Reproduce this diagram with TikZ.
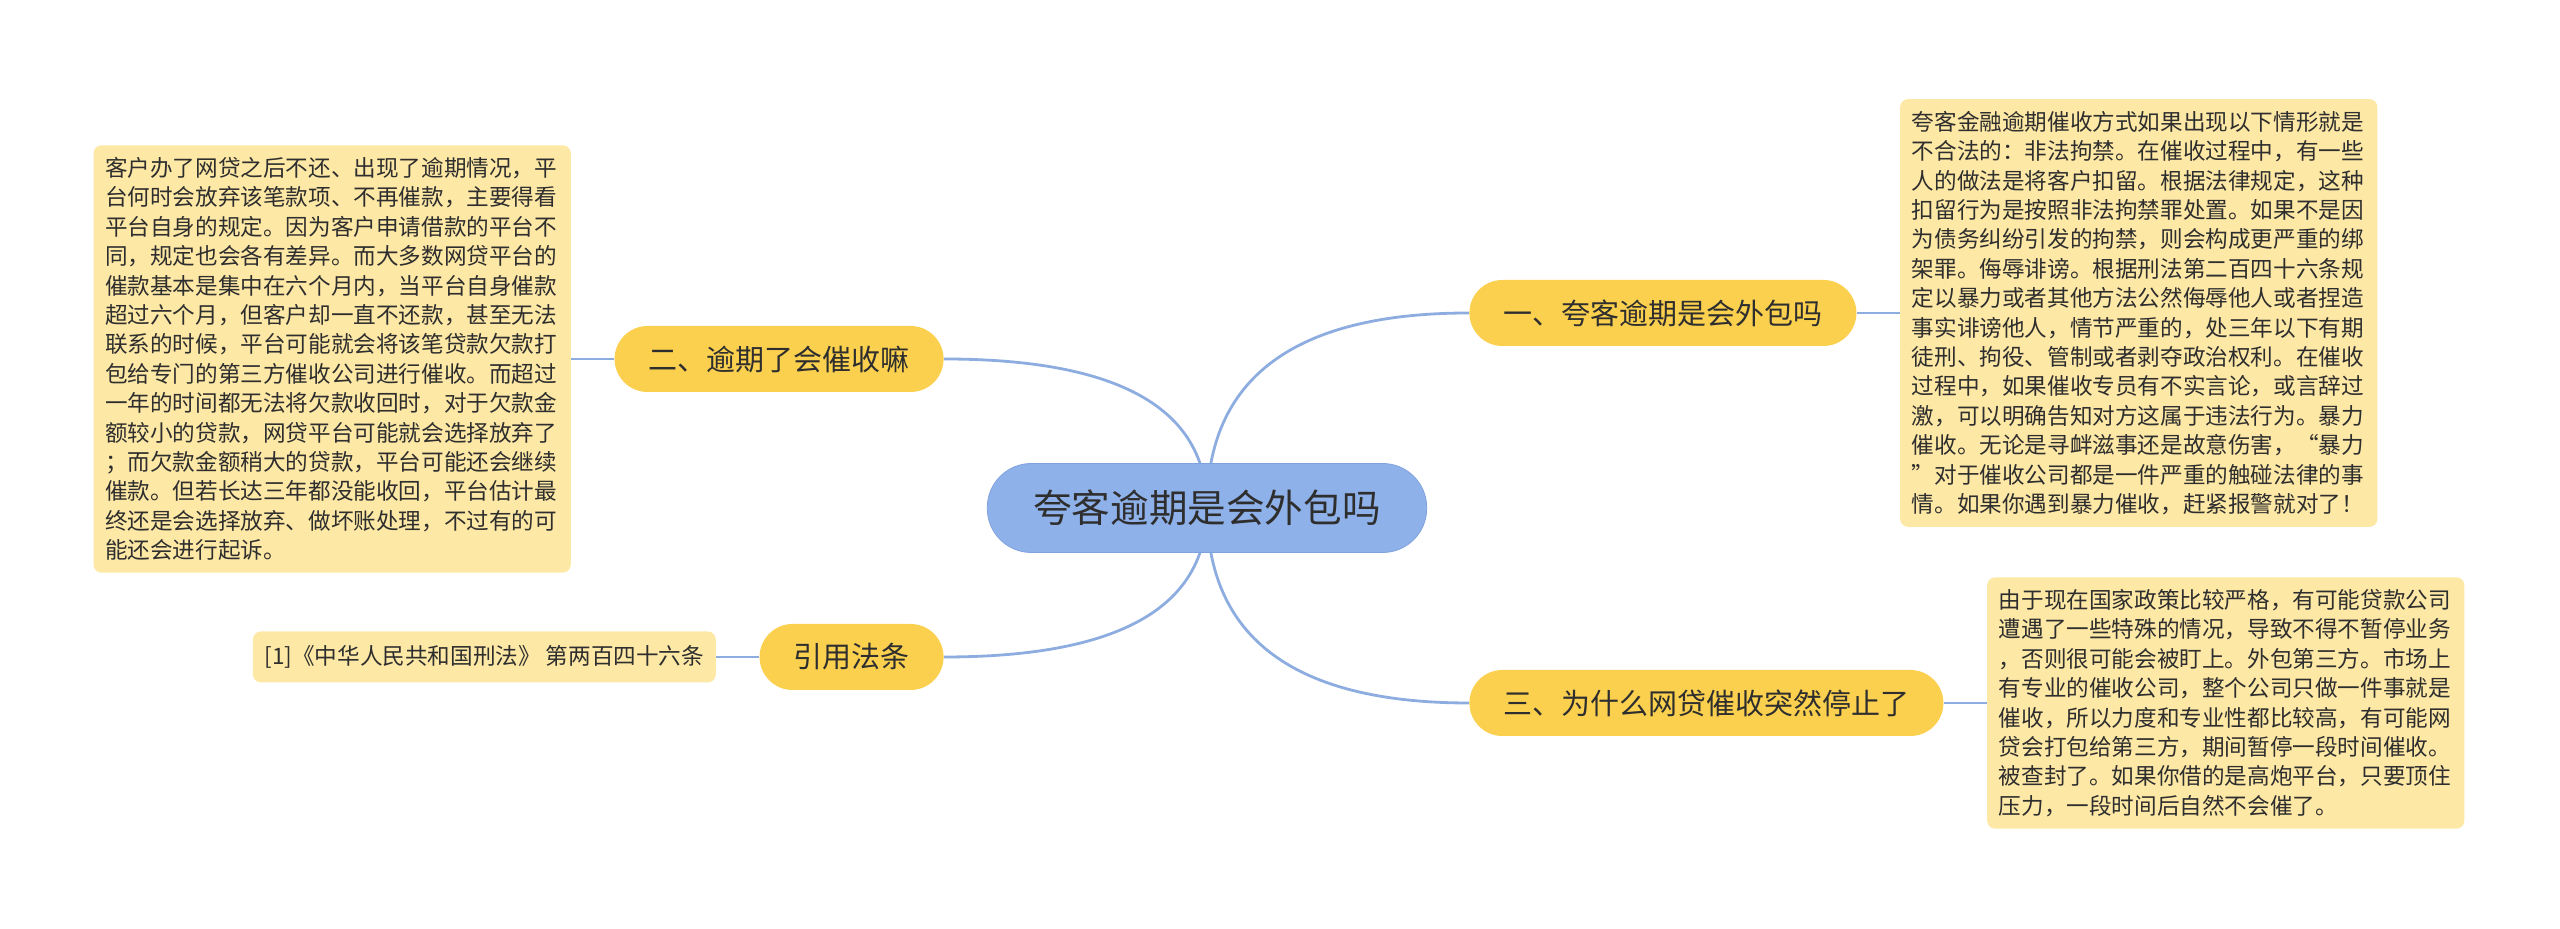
\documentclass[tikz,border=0pt]{standalone}
\usepackage{fontspec}
\setmainfont{Noto Sans CJK SC}
\definecolor{rootblue}{HTML}{8FB1E9}
\definecolor{rootedge}{HTML}{7FA2DE}
\definecolor{topicyellow}{HTML}{FBD04F}
\definecolor{leafyellow}{HTML}{FDE8A6}
\definecolor{linkblue}{HTML}{8DADE1}
\definecolor{ink}{HTML}{2E2E2E}
\usetikzlibrary{positioning, calc, backgrounds}

\begin{document}
\begin{tikzpicture}[
    node distance=12mm and 21.5pt,
    root/.style={rectangle, rounded corners=22pt, draw=rootedge, fill=rootblue,
                 minimum height=44.5pt, inner xsep=23pt, text=ink,
                 font=\fontsize{19.3pt}{23pt}\selectfont},
    topic/.style={rectangle, rounded corners=16.5pt, fill=topicyellow,
                  minimum height=33pt, inner xsep=17pt, text=ink,
                  font=\fontsize{14.5pt}{17pt}\selectfont},
    leaf/.style={rectangle, rounded corners=4pt, fill=leafyellow,
                 inner xsep=5.8pt, inner ysep=6pt, text width=227pt,
                 align=left, text=ink, font=\fontsize{11.3pt}{14.7pt}\selectfont},
    cite/.style={rectangle, rounded corners=4pt, fill=leafyellow,
                 inner xsep=5.8pt, minimum height=25.5pt, text=ink,
                 font=\fontsize{11.3pt}{14.7pt}\selectfont},
    link/.style={line width=1.4pt, linkblue}
  ]
  \useasboundingbox (-603.5pt,-210.5pt) rectangle (676.5pt,254pt);

  \node[root] (root) at (0,0) {夸客逾期是会外包吗};
  \node[topic, anchor=west] (outsrc) at (131pt,97.5pt) {一、夸客逾期是会外包吗};
  \node[topic, anchor=east] (collect) at (-131.5pt,74.5pt) {二、逾期了会催收嘛};
  \node[topic, anchor=east] (lawref) at (-131.5pt,-74.5pt) {引用法条};
  \node[topic, anchor=west] (stop) at (131pt,-97.5pt) {三、为什么网贷催收突然停止了};

  \node[leaf, right=of outsrc] (outsrctext) {夸客金融逾期催收方式如果出现以下情形就是\\
    不合法的：非法拘禁。在催收过程中，有一些\\
    人的做法是将客户扣留。根据法律规定，这种\\
    扣留行为是按照非法拘禁罪处置。如果不是因\\
    为债务纠纷引发的拘禁，则会构成更严重的绑\\
    架罪。侮辱诽谤。根据刑法第二百四十六条规\\
    定以暴力或者其他方法公然侮辱他人或者捏造\\
    事实诽谤他人，情节严重的，处三年以下有期\\
    徒刑、拘役、管制或者剥夺政治权利。在催收\\
    过程中，如果催收专员有不实言论，或言辞过\\
    激，可以明确告知对方这属于违法行为。暴力\\
    催收。无论是寻衅滋事还是故意伤害，“暴力\\
    ”对于催收公司都是一件严重的触碰法律的事\\
    情。如果你遇到暴力催收，赶紧报警就对了！};
  \node[leaf, left=of collect] (collecttext) {客户办了网贷之后不还、出现了逾期情况，平\\
    台何时会放弃该笔款项、不再催款，主要得看\\
    平台自身的规定。因为客户申请借款的平台不\\
    同，规定也会各有差异。而大多数网贷平台的\\
    催款基本是集中在六个月内，当平台自身催款\\
    超过六个月，但客户却一直不还款，甚至无法\\
    联系的时候，平台可能就会将该笔贷款欠款打\\
    包给专门的第三方催收公司进行催收。而超过\\
    一年的时间都无法将欠款收回时，对于欠款金\\
    额较小的贷款，网贷平台可能就会选择放弃了\\
    ；而欠款金额稍大的贷款，平台可能还会继续\\
    催款。但若长达三年都没能收回，平台估计最\\
    终还是会选择放弃、做坏账处理，不过有的可\\
    能还会进行起诉。};
  \node[cite, left=of lawref] (lawtext) {[1]《中华人民共和国刑法》 第两百四十六条};
  \node[leaf, right=of stop] (stoptext) {由于现在国家政策比较严格，有可能贷款公司\\
    遭遇了一些特殊的情况，导致不得不暂停业务\\
    ，否则很可能会被盯上。外包第三方。市场上\\
    有专业的催收公司，整个公司只做一件事就是\\
    催收，所以力度和专业性都比较高，有可能网\\
    贷会打包给第三方，期间暂停一段时间催收。\\
    被查封了。如果你借的是高炮平台，只要顶住\\
    压力，一段时间后自然不会催了。};

  \begin{scope}[on background layer]
    \draw[link] (root.center) .. controls ($(root.center)!0.667!(root.center |- outsrc.west)$)
      and ($(outsrc.west)!0.667!(root.center |- outsrc.west)$) .. (outsrc.west);
    \draw[link] (root.center) .. controls ($(root.center)!0.667!(root.center |- collect.east)$)
      and ($(collect.east)!0.667!(root.center |- collect.east)$) .. (collect.east);
    \draw[link] (root.center) .. controls ($(root.center)!0.667!(root.center |- lawref.east)$)
      and ($(lawref.east)!0.667!(root.center |- lawref.east)$) .. (lawref.east);
    \draw[link] (root.center) .. controls ($(root.center)!0.667!(root.center |- stop.west)$)
      and ($(stop.west)!0.667!(root.center |- stop.west)$) .. (stop.west);
  \end{scope}
  \draw[link] (outsrc) -- (outsrctext);
  \draw[link] (collect) -- (collecttext);
  \draw[link] (lawref) -- (lawtext);
  \draw[link] (stop) -- (stoptext);
\end{tikzpicture}
\end{document}
